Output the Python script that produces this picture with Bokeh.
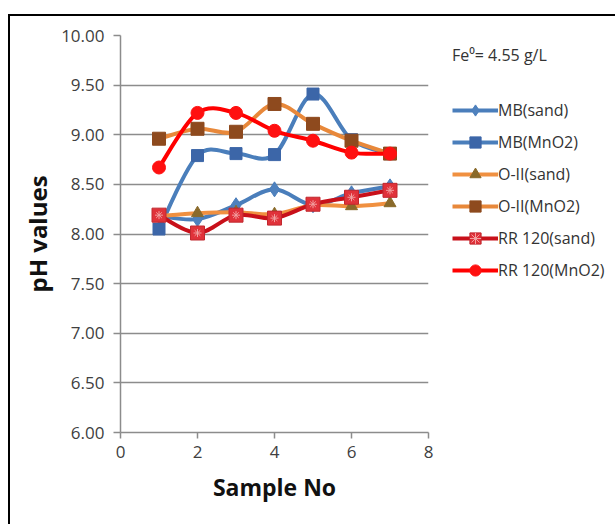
import numpy as np
from bokeh.plotting import figure
from bokeh.models import (Legend, LegendItem, NumeralTickFormatter,
                          FixedTicker, Range1d)
from bokeh.embed import file_html
from bokeh.resources import INLINE

# Sample numbers and measured pH values
samples = [1, 2, 3, 4, 5, 6, 7]
mb_sand = [8.18, 8.15, 8.29, 8.45, 8.29, 8.41, 8.48]
mb_mno2 = [8.05, 8.79, 8.81, 8.80, 9.41, 8.95, 8.81]
oii_sand = [8.18, 8.21, 8.22, 8.20, 8.29, 8.28, 8.31]
oii_mno2 = [8.96, 9.06, 9.03, 9.31, 9.11, 8.94, 8.81]
rr_sand = [8.19, 8.01, 8.19, 8.16, 8.30, 8.37, 8.44]
rr_mno2 = [8.67, 9.22, 9.22, 9.04, 8.94, 8.82, 8.81]

x_ticks = [0, 2, 4, 6, 8]
y_ticks = [6.0, 6.5, 7.0, 7.5, 8.0, 8.5, 9.0, 9.5, 10.0]

FONT = "Open Sans"

p = figure(frame_width=308, frame_height=397,
           x_range=Range1d(0, 8), y_range=Range1d(6, 10),
           output_backend="svg", toolbar_location=None,
           min_border_left=110, min_border_right=177,
           min_border_top=19, min_border_bottom=92,
           margin=(14, 0, 0, 8),
           styles={"border-top": "2px solid #000", "border-left": "2px solid #000"})
p.outline_line_color = None
p.background_fill_color = "white"
p.border_fill_color = "white"

p.xgrid.visible = False
p.ygrid.ticker = FixedTicker(ticks=y_ticks)
p.ygrid.grid_line_color = "#8c8c8c"
p.ygrid.grid_line_width = 1.5

for ax in (p.xaxis[0], p.yaxis[0]):
    ax.axis_line_color = "#8c8c8c"
    ax.axis_line_width = 1.5
    ax.major_tick_line_color = "#8c8c8c"
    ax.major_tick_line_width = 1.5
    ax.major_tick_out = 7
    ax.major_tick_in = 0
    ax.minor_tick_line_color = None
    ax.major_label_text_font = FONT
    ax.major_label_text_font_size = "17px"
    ax.major_label_text_color = "#404040"
    ax.axis_label_text_font = FONT
    ax.axis_label_text_font_style = "bold"
    ax.axis_label_text_color = "#111111"

p.xaxis.axis_label_text_font_size = "23px"
p.yaxis.axis_label_text_font_size = "24px"
p.xaxis.ticker = FixedTicker(ticks=x_ticks)
p.yaxis.ticker = FixedTicker(ticks=y_ticks)
p.yaxis.formatter = NumeralTickFormatter(format="0.00")
p.xaxis.axis_label = "Sample No"
p.yaxis.axis_label = "pH values"
p.xaxis.major_tick_out = 6
p.xaxis.major_label_standoff = 7
p.yaxis.major_label_standoff = 9
p.xaxis.axis_label_standoff = 10
p.yaxis.axis_label_standoff = 4


def smooth_segments(xs, ys):
    """Bezier control points for a Catmull-Rom style smoothed line."""
    xs = np.asarray(xs, float)
    ys = np.asarray(ys, float)
    n = len(xs)
    px = np.concatenate([[xs[0]], xs, [xs[-1]]])
    py = np.concatenate([[ys[0]], ys, [ys[-1]]])
    seg = dict(x0=[], y0=[], x1=[], y1=[], cx0=[], cy0=[], cx1=[], cy1=[])
    for i in range(n - 1):
        a, b, c, d = i, i + 1, i + 2, i + 3
        seg["x0"].append(px[b]); seg["y0"].append(py[b])
        seg["x1"].append(px[c]); seg["y1"].append(py[c])
        seg["cx0"].append(px[b] + (px[c] - px[a]) / 6)
        seg["cy0"].append(py[b] + (py[c] - py[a]) / 6)
        seg["cx1"].append(px[c] - (px[d] - px[b]) / 6)
        seg["cy1"].append(py[c] - (py[d] - py[b]) / 6)
    return seg


series = [
    ("MB(sand)", mb_sand, "#4a7ebb", "diamond", "#4f81bd", "#4a7ebb", 15),
    ("MB(MnO2)", mb_mno2, "#4a7ebb", "square", "#3c66a8", "#3c66a8", 12),
    ("O-II(sand)", oii_sand, "#f09040", "triangle", "#8a6a2a", "#8a6a2a", 12),
    ("O-II(MnO2)", oii_mno2, "#e8883a", "square", "#8e4a1e", "#8e4a1e", 13),
    ("RR 120(sand)", rr_sand, "#c8101a", "square", "#e0323a", "#c0282e", 14),
    ("RR 120(MnO2)", rr_mno2, "#ff0000", "circle", "#ff1010", "#ff1010", 13),
]

items = []
for name, vals, lcol, marker, fcol, mcol, size in series:
    seg = smooth_segments(samples, vals)
    curve = p.bezier(x0=seg["x0"], y0=seg["y0"], x1=seg["x1"], y1=seg["y1"],
                     cx0=seg["cx0"], cy0=seg["cy0"], cx1=seg["cx1"], cy1=seg["cy1"],
                     line_color=lcol, line_width=4)
    pts = p.scatter(samples, vals, marker=marker, size=size,
                    fill_color=fcol, line_color=mcol, line_width=1)
    rends = [curve, pts]
    if name == "RR 120(sand)":
        star = p.scatter(samples, vals, marker="asterisk", size=8,
                         line_color="#f2a0a0", line_width=1)
        rends.append(star)
    items.append(LegendItem(label=name, renderers=rends))

# tuple location: (left, bottom) of the legend box inside the right-hand panel
legend = Legend(items=items, location=(24, 148),
                title="Fe⁰= 4.55 g/L", title_standoff=30,
                title_text_font=FONT, title_text_font_size="16px",
                title_text_font_style="normal", title_text_color="#333333",
                orientation="vertical",
                glyph_width=46, glyph_height=28,
                label_standoff=0, spacing=4, padding=8, margin=0,
                label_text_font=FONT, label_text_font_size="16px",
                label_text_color="#333333",
                border_line_color=None, background_fill_alpha=0)
p.add_layout(legend, "right")

open("out.html", "w").write(file_html(p, INLINE))
